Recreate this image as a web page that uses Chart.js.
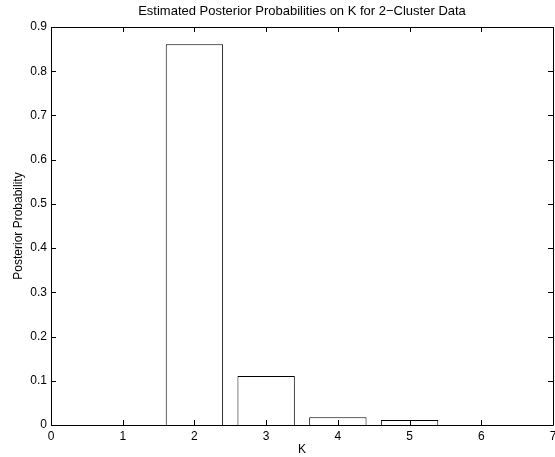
<!DOCTYPE html>
<html>
<head>
<meta charset="utf-8">
<script src="https://cdn.jsdelivr.net/npm/chart.js@4/dist/chart.umd.min.js"></script>
<style>
  html, body { margin: 0; padding: 0; background: #fff; }
  #wrap { width: 555px; height: 457px; }
</style>
</head>
<body>
<div id="wrap"><canvas id="myChart" width="555" height="457"></canvas></div>
<script>
var kValues = [2, 3, 4, 5];
var probs = [0.861, 0.111, 0.0175, 0.0113];
var xTicks = [0, 1, 2, 3, 4, 5, 6, 7];
var yTicks = [0, 0.1, 0.2, 0.3, 0.4, 0.5, 0.6, 0.7, 0.8, 0.9];

var points = [];
for (var i = 0; i < kValues.length; i++) {
  points.push({ x: kValues[i], y: probs[i] });
}

// matlab style box with inward ticks on all sides
var boxPlugin = {
  id: 'box',
  afterDraw: function(chart) {
    var ctx = chart.ctx;
    var a = chart.chartArea;
    var xs = chart.scales.x, ys = chart.scales.y;
    var len = 5;
    ctx.save();
    ctx.strokeStyle = '#000';
    ctx.lineWidth = 1;
    ctx.beginPath();
    ctx.rect(Math.round(a.left) + 0.5, Math.round(a.top) + 0.5, Math.round(a.right - a.left), Math.round(a.bottom - a.top));
    for (var i = 0; i < xTicks.length; i++) {
      var px = Math.round(xs.getPixelForValue(xTicks[i])) + 0.5;
      ctx.moveTo(px, a.bottom); ctx.lineTo(px, a.bottom - len);
      ctx.moveTo(px, a.top); ctx.lineTo(px, a.top + len);
    }
    for (var j = 0; j < yTicks.length; j++) {
      var py = Math.round(ys.getPixelForValue(yTicks[j])) + 0.5;
      ctx.moveTo(a.left, py); ctx.lineTo(a.left + len, py);
      ctx.moveTo(a.right, py); ctx.lineTo(a.right - len, py);
    }
    ctx.stroke();
    ctx.restore();
  }
};

var font = "'Liberation Sans', Arial, Helvetica, sans-serif";

var myChart = new Chart(document.getElementById('myChart').getContext('2d'), {
  type: 'bar',
  data: {
    datasets: [{
      data: points,
      backgroundColor: '#fff',
      borderColor: '#000',
      borderWidth: 1,
      barPercentage: 1.0,
      categoryPercentage: 0.8
    }]
  },
  options: {
    responsive: false,
    animation: false,
    layout: { padding: { left: 0, right: 2, top: 0, bottom: 0 } },
    plugins: {
      legend: { display: false },
      tooltip: { enabled: false },
      title: {
        display: true,
        fullSize: false,
        text: 'Estimated Posterior Probabilities on K for 2\u2212Cluster Data',
        color: '#000',
        font: { family: font, size: 13, weight: 'normal' },
        padding: { top: 4, bottom: 7.4 }
      }
    },
    scales: {
      x: {
        type: 'linear',
        offset: false,
        min: 0,
        max: 7,
        afterBuildTicks: function(s) { s.ticks = xTicks.map(function(v) { return { value: v }; }); },
        afterFit: function(s) { s.height = 32; s.paddingLeft = 0; s.paddingRight = 0; },
        grid: { display: false, drawTicks: false, tickLength: 0 },
        border: { display: false },
        ticks: { color: '#000', padding: 4, maxRotation: 0, font: { family: font, size: 12 } },
        title: { display: true, text: 'K', color: '#000', padding: { top: 0, bottom: 0 }, font: { family: font, size: 12 } }
      },
      y: {
        min: 0,
        max: 0.9,
        afterBuildTicks: function(s) { s.ticks = yTicks.map(function(v) { return { value: v }; }); },
        afterFit: function(s) { s.width = 51; s.paddingTop = 0; s.paddingBottom = 0; },
        grid: { display: false, drawTicks: false, tickLength: 0 },
        border: { display: false },
        ticks: {
          color: '#000', padding: 4, font: { family: font, size: 12 },
          callback: function(v) { return v === 0 ? '0' : v.toFixed(1); }
        },
        title: { display: true, text: 'Posterior Probability', color: '#000', padding: { top: 11, bottom: 2 }, font: { family: font, size: 12 } }
      }
    }
  },
  plugins: [boxPlugin]
});
</script>
</body>
</html>
